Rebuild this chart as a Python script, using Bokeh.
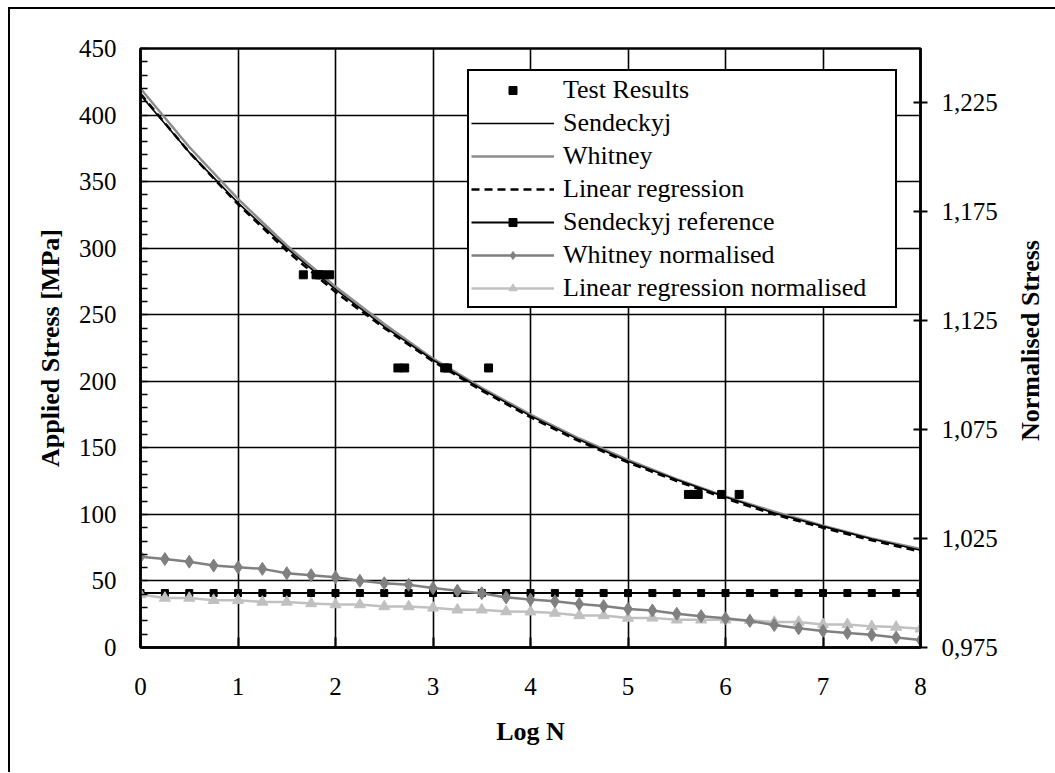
import math
from bokeh.plotting import figure
from bokeh.layouts import row
from bokeh.models import (Range1d, LinearAxis, FixedTicker, CustomJSTickFormatter,
                          Legend, LegendItem)
from bokeh.core.properties import value
from bokeh.embed import file_html
from bokeh.resources import INLINE

# ---------------- data ----------------
log_n_curve = [0, 0.5, 1, 1.5, 2, 2.5, 3, 3.5, 4, 4.5, 5, 5.5, 6, 6.5, 7, 7.5, 8]
sendeckyj = [415, 372, 334, 300, 269, 241, 216, 194, 174, 156, 140, 126, 113, 101, 91, 81.5, 73]
whitney = [420, 376, 337, 302, 271, 243, 217, 195, 175, 157, 141, 126.5, 113.5, 102, 91.5, 82, 74]
linear_regression = [416, 372, 333, 298, 267, 240, 215, 193, 173, 155, 139, 125, 112, 100, 90, 80.5, 72]

test_log_n = [1.67, 1.80, 1.83, 1.86, 1.94, 2.64, 2.71, 3.12, 3.15, 3.57, 5.62, 5.68, 5.72, 5.96, 6.14]
test_stress = [280, 280, 280, 280, 280, 210, 210, 210, 210, 210, 115, 115, 115, 115, 115]

log_n_norm = [0, 0.25, 0.5, 0.75, 1, 1.25, 1.5, 1.75, 2, 2.25, 2.5, 2.75, 3, 3.25, 3.5, 3.75, 4,
              4.25, 4.5, 4.75, 5, 5.25, 5.5, 5.75, 6, 6.25, 6.5, 6.75, 7, 7.25, 7.5, 7.75, 8]
sendeckyj_reference = [1.0, 1.0, 1.0, 1.0, 1.0, 1.0, 1.0, 1.0, 1.0, 1.0, 1.0, 1.0, 1.0, 1.0, 1.0, 1.0, 1.0,
                       1.0, 1.0, 1.0, 1.0, 1.0, 1.0, 1.0, 1.0, 1.0, 1.0, 1.0, 1.0, 1.0, 1.0, 1.0, 1.0]
whitney_normalised = [1.0167, 1.0156, 1.0144, 1.0126, 1.0118, 1.0111, 1.0091, 1.0082, 1.0073,
                      1.0056, 1.0045, 1.0038, 1.0023, 1.0011, 0.9999, 0.9980, 0.9970,
                      0.9962, 0.9950, 0.9940, 0.9927, 0.9920, 0.9905, 0.9894, 0.9884,
                      0.9872, 0.9853, 0.9838, 0.9826, 0.9817, 0.9808, 0.9796, 0.9784]
linear_normalised = [0.9993, 0.9977, 0.9977, 0.9967, 0.9967, 0.9959, 0.9959, 0.9952, 0.9947,
                     0.9947, 0.9938, 0.9938, 0.9932, 0.9923, 0.9923, 0.9915, 0.9914,
                     0.9908, 0.9897, 0.9897, 0.9885, 0.9886, 0.9877, 0.9877, 0.9877,
                     0.9875, 0.9867, 0.9867, 0.9856, 0.9856, 0.9847, 0.9844, 0.9836]

x_ticks = [0, 1, 2, 3, 4, 5, 6, 7, 8]
y_ticks = [0, 50, 100, 150, 200, 250, 300, 350, 400, 450]
y_minor_ticks = [v for v in range(0, 451, 10)]
right_ticks = [0.975, 1.025, 1.075, 1.125, 1.175, 1.225]
right_title = "Normalised Stress"

FONT = "Liberation Serif"

# ---------------- main figure ----------------
p = figure(width=1000, height=763, output_backend="svg", toolbar_location=None,
           x_range=Range1d(0, 8), y_range=Range1d(0, 450),
           min_border_left=130, min_border_right=90, min_border_top=39, min_border_bottom=125)
p.background_fill_color = "white"
p.border_fill_color = "white"
p.outline_line_color = "black"
p.outline_line_width = 2.5

p.extra_y_ranges = {"norm": Range1d(0.975, 1.25)}

# grids
p.xgrid.ticker = FixedTicker(ticks=x_ticks)
p.ygrid.ticker = FixedTicker(ticks=y_ticks)
for g in (p.xgrid, p.ygrid):
    g.grid_line_color = "black"
    g.grid_line_width = 1.6

# bottom axis
xa = p.xaxis[0]
xa.ticker = FixedTicker(ticks=x_ticks)
xa.axis_label = "Log N"
xa.major_tick_in = 10
xa.major_tick_out = 0
xa.minor_tick_in = 0
xa.minor_tick_out = 0
xa.major_label_standoff = 30
xa.axis_label_standoff = 19

# left axis
ya = p.yaxis[0]
ya.ticker = FixedTicker(ticks=y_ticks, minor_ticks=y_minor_ticks)
ya.axis_label = "Applied Stress [MPa]"
ya.major_tick_in = 0
ya.major_tick_out = 0
ya.minor_tick_in = 7
ya.minor_tick_out = 0
ya.major_label_standoff = 24
ya.axis_label_standoff = 11

# right axis
ra = LinearAxis(y_range_name="norm",
                ticker=FixedTicker(ticks=right_ticks),
                formatter=CustomJSTickFormatter(code="return tick.toFixed(3).replace('.', ',');"))
ra.major_tick_in = 7
ra.major_tick_out = 7
ra.minor_tick_in = 0
ra.minor_tick_out = 0
ra.major_label_standoff = 14
p.add_layout(ra, "right")

for ax in (xa, ya, ra):
    ax.axis_line_color = "black"
    ax.axis_line_width = 2.5
    ax.major_tick_line_color = "black"
    ax.major_tick_line_width = 2
    ax.minor_tick_line_color = "black"
    ax.minor_tick_line_width = 1.5
    ax.major_label_text_font = FONT
    ax.major_label_text_font_size = "25px"
    ax.major_label_text_color = "black"
    ax.axis_label_text_font = FONT
    ax.axis_label_text_font_size = "26px"
    ax.axis_label_text_font_style = "bold"
    ax.axis_label_text_color = "black"

# ---------------- glyphs ----------------
r_whitney = p.line(log_n_curve, whitney, line_color="#8c8c8c", line_width=2.5)
r_sendeckyj = p.line(log_n_curve, sendeckyj, line_color="black", line_width=1.6)
r_linreg = p.line(log_n_curve, linear_regression, line_color="black", line_width=2.5,
                  line_dash="8 5")

r_ref_line = p.line(log_n_norm, sendeckyj_reference, y_range_name="norm",
                    line_color="black", line_width=2)
r_ref_pts = p.scatter(log_n_norm, sendeckyj_reference, y_range_name="norm", marker="square",
                      size=7, fill_color="black", line_color="black")

r_lin_line = p.line(log_n_norm, linear_normalised, y_range_name="norm",
                    line_color="#c0c0c0", line_width=2.5)
r_lin_pts = p.scatter(log_n_norm, linear_normalised, y_range_name="norm", marker="triangle",
                      size=11, fill_color="#c0c0c0", line_color="#c0c0c0")

r_wn_line = p.line(log_n_norm, whitney_normalised, y_range_name="norm",
                   line_color="#808080", line_width=2.5)
r_wn_pts = p.scatter(log_n_norm, whitney_normalised, y_range_name="norm", marker="diamond",
                     size=13, fill_color="#808080", line_color="#808080")

r_test = p.scatter(test_log_n, test_stress, marker="square", size=8,
                   fill_color="black", line_color="black")

# ---------------- legend ----------------
legend = Legend(items=[
    LegendItem(label="Test Results", renderers=[r_test]),
    LegendItem(label="Sendeckyj", renderers=[r_sendeckyj]),
    LegendItem(label="Whitney", renderers=[r_whitney]),
    LegendItem(label="Linear regression", renderers=[r_linreg]),
    LegendItem(label="Sendeckyj reference", renderers=[r_ref_line, r_ref_pts]),
    LegendItem(label="Whitney normalised", renderers=[r_wn_line, r_wn_pts]),
    LegendItem(label="Linear regression normalised", renderers=[r_lin_line, r_lin_pts]),
], location=(327, 339))
legend.label_text_font = FONT
legend.label_text_font_size = "26px"
legend.label_text_color = "black"
legend.glyph_width = 83
legend.glyph_height = 20
legend.label_height = 33
legend.label_width = 330
legend.label_standoff = 9
legend.spacing = 0
legend.padding = 2
legend.margin = 0
legend.border_line_color = "black"
legend.border_line_alpha = 1
legend.border_line_width = 2
legend.background_fill_color = "white"
legend.background_fill_alpha = 1
p.add_layout(legend)

# ---------------- narrow strip carrying the right-hand title ----------------
t = figure(width=45, height=763, output_backend="svg", toolbar_location=None,
           x_range=Range1d(0, 45), y_range=Range1d(0, 763),
           x_axis_type=None, y_axis_type=None,
           min_border_left=0, min_border_right=0, min_border_top=0, min_border_bottom=0)
t.outline_line_color = None
t.background_fill_color = "white"
t.border_fill_color = "white"
t.text(x=[20], y=[391], text=[right_title], angle=math.pi / 2,
       text_align="center", text_baseline="middle",
       text_font=value(FONT), text_font_size="26px", text_font_style="bold",
       text_color="black")

layout = row(p, t, spacing=0)
layout.styles = {"border-top": "2px solid black", "border-left": "2px solid black",
                 "margin-left": "8px", "margin-top": "7px"}

open("out.html", "w").write(file_html(layout, INLINE))
